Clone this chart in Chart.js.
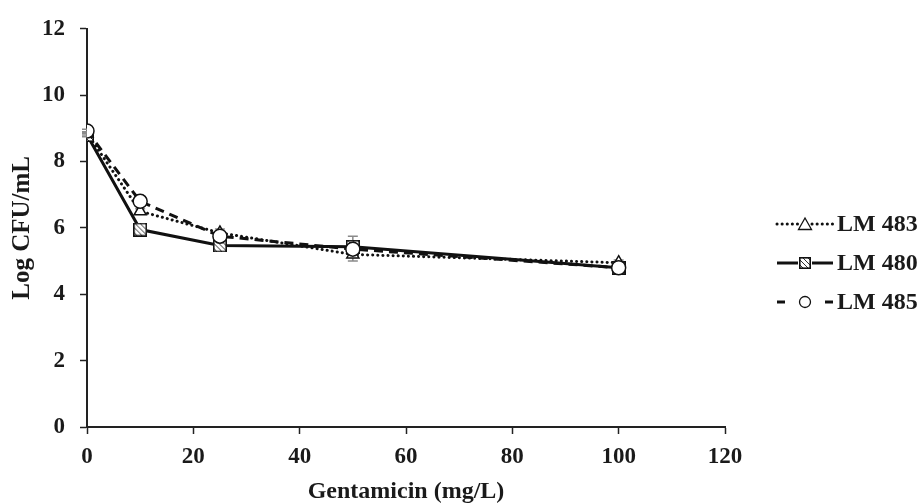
<!DOCTYPE html>
<html>
<head>
<meta charset="utf-8">
<script src="https://cdn.jsdelivr.net/npm/chart.js@4"></script>
<style>
  html, body { margin: 0; padding: 0; background: #fff; }
  #wrap { width: 922px; height: 504px; position: relative; }
</style>
</head>
<body>
<div id="wrap"><canvas id="c" width="922" height="504"></canvas></div>
<script>
// ---- data ----
const concentrations = [0, 10, 25, 50, 100];
const seriesNames = ['LM 483', 'LM 480', 'LM 485'];
const lm483 = [8.85, 6.5, 5.85, 5.2, 4.95];
const lm480 = [8.8, 5.95, 5.47, 5.43, 4.8];
const lm485 = [8.92, 6.8, 5.75, 5.36, 4.8];
const lm483Err = [0.05, 0.08, 0.12, 0.2, 0.08];
const lm480Err = [0.05, 0.06, 0.06, 0.32, 0.1];
const lm485Err = [0.05, 0.08, 0.1, 0.12, 0.08];
const xTicks = [0, 20, 40, 60, 80, 100, 120];
const yTicks = [0, 2, 4, 6, 8, 10, 12];

const FONT = 'Liberation Serif';

function hatchedSquare(size) {
  const cv = document.createElement('canvas');
  cv.width = size; cv.height = size;
  const g = cv.getContext('2d');
  g.fillStyle = '#fff';
  g.fillRect(0, 0, size, size);
  g.save();
  g.beginPath(); g.rect(1, 1, size - 2, size - 2); g.clip();
  g.strokeStyle = '#333'; g.lineWidth = 1;
  for (let k = -size; k < size * 2; k += 5) {
    g.beginPath(); g.moveTo(k, 0); g.lineTo(k + size, size); g.stroke();
  }
  g.restore();
  g.strokeStyle = '#111'; g.lineWidth = 1.6;
  g.strokeRect(0.8, 0.8, size - 1.6, size - 1.6);
  return cv;
}
const sqBig = hatchedSquare(14);
const sqSmall = hatchedSquare(12);

function pts(arr) { return concentrations.map((x, i) => ({ x: x, y: arr[i] })); }

const datasets = [
  { label: seriesNames[2], data: pts(lm485), err: lm485Err, order: 0,
    borderColor: '#111', borderWidth: 3, borderDash: [9, 6],
    pointStyle: 'circle', pointRadius: 7, pointBackgroundColor: '#fff', pointBorderColor: '#111', pointBorderWidth: 1.5,
    legendMarker: 'circle' },
  { label: seriesNames[1], data: pts(lm480), err: lm480Err, order: 1,
    borderColor: '#111', borderWidth: 3, borderDash: [],
    pointStyle: sqBig, pointRadius: 7, legendMarker: 'square' },
  { label: seriesNames[0], data: pts(lm483), err: lm483Err, order: 2,
    borderColor: '#111', borderWidth: 3, borderDash: [0.1, 5], borderCapStyle: 'round',
    pointStyle: 'triangle', pointRadius: 7, pointBackgroundColor: '#fff', pointBorderColor: '#111', pointBorderWidth: 1.5,
    legendMarker: 'triangle' }
];
datasets.forEach(d => { d.tension = 0; d.fill = false; d.showLine = true; });

const errorBars = {
  id: 'errorBars',
  beforeDatasetsDraw(chart) {
    const ctx = chart.ctx, xs = chart.scales.x, ys = chart.scales.y;
    ctx.save();
    ctx.strokeStyle = '#8a8a8a'; ctx.lineWidth = 1.5;
    chart.data.datasets.forEach(ds => {
      ds.data.forEach((p, i) => {
        const e = ds.err[i]; if (!e) return;
        const px = xs.getPixelForValue(p.x);
        const top = ys.getPixelForValue(p.y + e), bot = ys.getPixelForValue(p.y - e);
        ctx.beginPath();
        ctx.moveTo(px, top); ctx.lineTo(px, bot);
        ctx.moveTo(px - 5, top); ctx.lineTo(px + 5, top);
        ctx.moveTo(px - 5, bot); ctx.lineTo(px + 5, bot);
        ctx.stroke();
      });
    });
    ctx.restore();
  }
};

const customLegend = {
  id: 'customLegend',
  afterDraw(chart) {
    const ctx = chart.ctx;
    const order = [seriesNames[0], seriesNames[1], seriesNames[2]];
    const x0 = 777, x1 = 833, tx = 837, y0 = 224, dy = 39;
    ctx.save();
    order.forEach((name, k) => {
      const ds = chart.data.datasets.find(d => d.label === name);
      const y = y0 + k * dy;
      const cx = (x0 + x1) / 2;
      ctx.strokeStyle = '#111'; ctx.lineWidth = 3;
      ctx.lineCap = ds.borderCapStyle || 'butt';
      if (ds.legendMarker === 'circle') {
        ctx.setLineDash([]);
        ctx.beginPath(); ctx.moveTo(x0, y); ctx.lineTo(x0 + 8, y); ctx.stroke();
        ctx.beginPath(); ctx.moveTo(x1 - 8, y); ctx.lineTo(x1, y); ctx.stroke();
      } else {
        ctx.setLineDash(ds.borderDash || []);
        ctx.beginPath(); ctx.moveTo(x0, y); ctx.lineTo(cx - 7, y); ctx.stroke();
        ctx.beginPath(); ctx.moveTo(cx + 7, y); ctx.lineTo(x1, y); ctx.stroke();
      }
      ctx.setLineDash([]); ctx.lineCap = 'butt';
      ctx.fillStyle = '#fff'; ctx.lineWidth = 1.3;
      if (ds.legendMarker === 'circle') {
        ctx.beginPath(); ctx.arc(cx, y, 5.5, 0, Math.PI * 2); ctx.fill(); ctx.stroke();
      } else if (ds.legendMarker === 'triangle') {
        ctx.beginPath(); ctx.moveTo(cx, y - 6); ctx.lineTo(cx + 6.5, y + 5.5); ctx.lineTo(cx - 6.5, y + 5.5); ctx.closePath();
        ctx.fill(); ctx.stroke();
      } else {
        ctx.drawImage(sqSmall, cx - 6, y - 6);
      }
      ctx.fillStyle = '#1a1a1a';
      ctx.font = 'bold 24px "' + FONT + '"';
      ctx.textAlign = 'left'; ctx.textBaseline = 'middle';
      ctx.fillText(name, tx, y + 1);
    });
    ctx.restore();
  }
};

new Chart(document.getElementById('c'), {
  type: 'line',
  data: { datasets: datasets },
  plugins: [errorBars, customLegend],
  options: {
    responsive: false,
    animation: false,
    events: [],
    layout: { padding: { left: 0, right: 197, top: 21, bottom: 0 } },
    plugins: { legend: { display: false }, tooltip: { enabled: false } },
    scales: {
      x: {
        type: 'linear', min: 0, max: 120,
        afterBuildTicks(s) { s.ticks = xTicks.map(v => ({ value: v })); },
        afterFit(s) { s.height = 77; },
        grid: { display: true, drawOnChartArea: false, drawTicks: true, tickLength: 7, tickWidth: 1.5, tickColor: '#222' },
        border: { display: true, color: '#222', width: 2 },
        ticks: { color: '#1a1a1a', padding: 9, maxRotation: 0, font: { family: FONT, size: 23, weight: 'bold' } },
        title: { display: true, text: 'Gentamicin (mg/L)', color: '#1a1a1a', padding: { top: 0, bottom: 0 },
                 font: { family: FONT, size: 24, weight: 'bold', lineHeight: 1 } }
      },
      y: {
        type: 'linear', min: 0, max: 12,
        afterBuildTicks(s) { s.ticks = yTicks.map(v => ({ value: v })); },
        afterFit(s) { s.width = 87; },
        grid: { display: true, drawOnChartArea: false, drawTicks: true, tickLength: 7, tickWidth: 1.5, tickColor: '#222' },
        border: { display: true, color: '#222', width: 2 },
        ticks: { color: '#1a1a1a', padding: 15, font: { family: FONT, size: 23, weight: 'bold' } },
        title: { display: true, text: 'Log CFU/mL', color: '#1a1a1a', padding: { top: 10, bottom: 0 },
                 font: { family: FONT, size: 25, weight: 'bold', lineHeight: 1 } }
      }
    }
  }
});
</script>
</body>
</html>
